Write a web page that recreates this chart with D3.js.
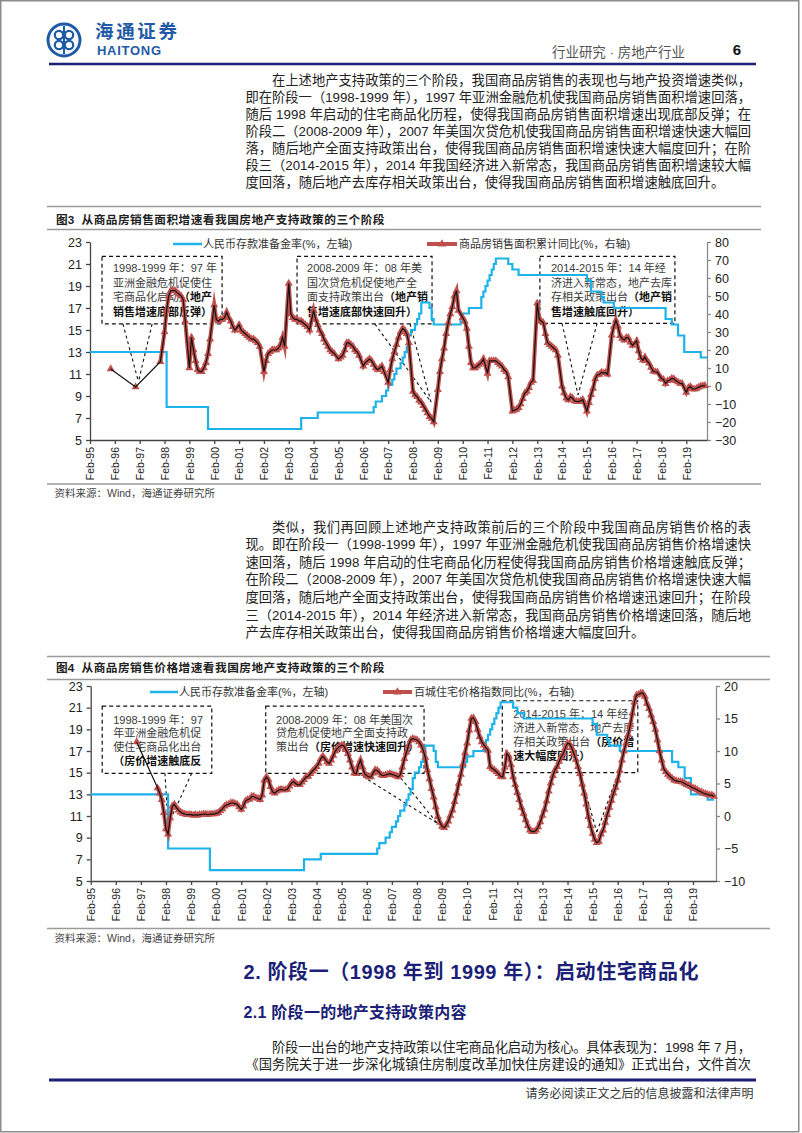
<!DOCTYPE html>
<html>
<head>
<meta charset="utf-8">
<script src="https://cdn.jsdelivr.net/npm/d3@7"></script>
<style>
body { margin: 0; background: #fff; }
svg { display: block; }
</style>
</head>
<body>
<div id="page"></div>
<script>
// ---- data ----
var yearLabels = ["Feb-95", "Feb-96", "Feb-97", "Feb-98", "Feb-99", "Feb-00", "Feb-01", "Feb-02",
    "Feb-03", "Feb-04", "Feb-05", "Feb-06", "Feb-07", "Feb-08", "Feb-09", "Feb-10", "Feb-11",
    "Feb-12", "Feb-13", "Feb-14", "Feb-15", "Feb-16", "Feb-17", "Feb-18", "Feb-19"];
var rrrTicks = [5, 7, 9, 11, 13, 15, 17, 19, 21, 23];
var areaTicks = [-30, -20, -10, 0, 10, 20, 30, 40, 50, 60, 70, 80];
var priceTicks = [-10, -5, 0, 5, 10, 15, 20];

// 人民币存款准备金率: change dates and new level (%)
var rrrDates = ["1995-02", "1998-03", "1999-11", "2003-08", "2004-04", "2006-07", "2006-08", "2006-11",
    "2007-01", "2007-02", "2007-04", "2007-05", "2007-06", "2007-08", "2007-09", "2007-10", "2007-11",
    "2007-12", "2008-01", "2008-03", "2008-04", "2008-05", "2008-06", "2008-10", "2008-11", "2008-12",
    "2010-01", "2010-02", "2010-05", "2010-11", "2010-12", "2011-01", "2011-02", "2011-03", "2011-04",
    "2011-05", "2011-06", "2011-12", "2012-02", "2012-05", "2015-02", "2015-04", "2015-09", "2015-10",
    "2016-03", "2018-04", "2018-07", "2018-10", "2019-01", "2019-09", "2019-12"];
var rrrValues = [13, 8, 6, 7, 7.5, 8, 8.5, 9,
    9.5, 10, 10.5, 11, 11.5, 12, 12.5, 13, 13.5,
    14.5, 15, 15.5, 16, 16.5, 17.5, 17, 16, 15.5,
    16, 16.5, 17, 18, 18.5, 19, 19.5, 20, 20.5,
    21, 21.5, 21, 20.5, 20, 19.5, 18.5, 18, 17.5,
    17, 16, 15.5, 14.5, 13, 12.5, 12.5];

// 商品房销售面积累计同比 (%): yearly points, then Feb..Dec each year from 1998 (Jan merged into Feb)
var areaEarlyDates = ["1995-12", "1996-12", "1997-12"];
var areaEarlyValues = [9.5, -0.5, 13.5];
var areaYoY = [
    30, 42, 50, 53, 53, 53, 52, 51, 50, 48, 36,
    10, 27, 20, 14, 9, 8, 8, 10, 13, 18, 26,
    45, 37, 36, 37, 37, 38, 41, 38, 36, 33, 31,
    34, 31, 30, 29, 28, 27, 26, 26, 25, 24, 22,
    8, 14, 18, 19, 20, 20, 20, 21, 23, 27, 22,
    57, 40, 38, 37, 37, 36, 36, 35, 34, 33, 31,
    42, 37, 34, 31, 29, 26, 24, 22, 20, 19, 18,
    15, 16, 17, 20, 24, 24, 23, 22, 20, 19, 17,
    11, 13, 14, 15, 14, 12, 10, 9, 10, 11, 8,
    2, 9, 15, 19, 23, 27, 30, 32, 31, 29, 24,
    -3, -5, -6, -8, -9, -11, -13, -15, -17, -18, -20,
    -2, 8, 15, 21, 29, 35, 40, 44, 50, 53, 42,
    38, 36, 32, 22, 13, 10, 10, 11, 12, 13, 15,
    7, 14, 14, 14, 14, 13, 12, 11, 9, 8, 5,
    -14, -13.5, -13, -12, -10, -7, -4, -3, -1, 2, 3,
    46, 37, 36, 35, 29, 24, 23, 22, 21, 20, 17,
    -0.1, -3.8, -6.8, -7.8, -6.0, -6.6, -8.3, -8.6, -8.7, -8.2, -7.6,
    -14, -9.2, -4.8, -1.3, 3.9, 6.1, 6.4, 7.5, 7.2, 7.4, 6.5,
    28.2, 33.1, 36.5, 33.2, 27.9, 26.4, 25.5, 26.9, 26.8, 24.3, 22.5,
    25.1, 19.5, 15.7, 14.3, 16.1, 14.0, 12.7, 10.3, 8.2, 7.9, 7.7,
    4.1, 3.6, 1.3, 2.9, 3.3, 4.2, 4.0, 2.9, 2.2, 1.4, 1.3,
    -3.6, -0.9, -0.3, -1.6, -1.8, -1.3, -0.6, -0.1, 0.1, 0.2];

// 百城住宅价格指数同比 (%): one early point, then monthly from Oct-97
var priceEarlyDates = ["1996-12"];
var priceEarlyValues = [11.4];
var priceStart = "1997-10";
var priceYoY = [
    4.3, 3.5, 2.5,
    0.5, -2.0, -2.8, -0.3, 1.5, 1.8, 1.3, 0.9, 0.6, 0.4, 0.3, 0.2,
    0.2, 0.2, 0.1, 0.2, 0.1, 0.2, 0.2, 0.3, 0.3, 0.2, 0.3, 0.3,
    0.3, 0.4, 0.5, 0.8, 1.1, 1.5, 1.7, 1.8, 2.0, 2.0, 1.9, 1.8,
    1.4, 1.0, 1.5, 2.3, 2.5, 2.6, 3.0, 3.0, 2.8, 2.7, 2.5, 3.2,
    5.5, 6.0, 5.6, 4.5, 3.7, 3.5, 3.8, 4.0, 4.1, 4.0, 4.0, 4.1,
    4.6, 5.1, 5.3, 5.0, 4.8, 4.8, 5.2, 5.6, 6.0, 6.1, 6.5, 6.9,
    7.2, 7.6, 8.1, 8.8, 9.2, 8.8, 8.3, 8.1, 8.6, 9.3, 10.0, 10.4,
    10.7, 10.9, 10.8, 10.2, 9.6, 8.6, 7.5, 6.6, 6.5, 7.8, 8.6, 7.5,
    6.5, 6.2, 6.0, 6.0, 6.6, 7.1, 7.0, 6.7, 6.3, 6.2, 6.3, 6.4,
    6.5, 6.4, 6.3, 6.2, 6.0, 6.3, 7.5, 8.8, 9.8, 10.9, 11.7, 11.9,
    11.8, 11.7, 11.4, 10.9, 10.1, 9.0, 7.1, 5.7, 4.2, 2.9, 1.4, -0.1,
    -1.0, -1.6, -1.8, -1.4, -0.8, 0.1, 0.9, 2.2, 3.5, 5.0, 6.4, 8.0,
    9.7, 11.2, 13.2, 15.0, 15.1, 14.5, 13.3, 12.2, 11.4, 10.9, 10.5, 10.1,
    7.6, 7.3, 7.1, 6.8, 6.5, 6.1, 6.0, 7.5, 9.6, 9.2, 7.9, 6.0,
    4.8, 3.6, 2.5, 1.3, 0.4, -0.6, -1.5, -2.2, -2.4, -2.4, -2.2, -1.7,
    -0.9, 0.1, 1.0, 2.3, 3.8, 5.1, 6.2, 7.1, 7.6, 8.4, 9.1, 9.6,
    10.5, 11.2, 11.1, 10.5, 9.6, 8.7, 7.6, 6.5, 4.9, 3.5, 1.8, -0.1,
    -1.5, -2.7, -3.6, -4.1, -3.9, -2.8, -2.2, -1.0, 0.2, 1.3, 2.4, 3.5,
    4.4, 5.5, 7.0, 8.6, 10.0, 11.2, 12.5, 14.0, 15.8, 17.5, 18.6, 18.7,
    18.9, 18.9, 18.4, 17.3, 16.5, 15.5, 14.5, 13.3, 11.7, 10.0, 8.6, 7.3,
    6.8, 6.4, 6.1, 5.8, 5.5, 5.4, 5.3, 5.3, 5.2, 5.0, 4.8, 4.7,
    4.5, 4.3, 4.2, 4.0, 3.8, 3.7, 3.5, 3.4, 3.3, 3.2, 3.2, 3.0];

// ---- helpers ----
var cjk = "'Liberation Sans', 'Noto Sans CJK SC', sans-serif";
var navy = "#1c1f78";
var blue = "#1db3ea";
var red = "#c0504d";

function monthIndex(s) {
    var p = s.split("-");
    return (+p[0] - 1995) * 12 + (+p[1] - 2);
}

function febToDec(startYear, endYear, endMonth) {
    var out = [];
    for (var y = startYear; y <= endYear; y++) {
        for (var m = 2; m <= 12; m++) {
            if (y === endYear && m > endMonth) break;
            out.push((y - 1995) * 12 + (m - 2));
        }
    }
    return out;
}

var svg = d3.select("#page").append("svg")
    .attr("width", 802)
    .attr("height", 1133);

svg.append("rect").attr("width", 802).attr("height", 1133).attr("fill", "#fff");
svg.append("rect")
    .attr("x", 0.75).attr("y", 0.75).attr("width", 798).attr("height", 1131)
    .attr("fill", "none").attr("stroke", "#8c8c8c").attr("stroke-width", 1.5);

// ---- header ----
var logo = svg.append("g").attr("transform", "translate(64,40)");
logo.append("circle").attr("r", 16).attr("fill", "none").attr("stroke", "#1f5aa6").attr("stroke-width", 3);
[[-5, -5], [5, -5], [-5, 5], [5, 5]].forEach(function (p) {
    logo.append("circle").attr("cx", p[0]).attr("cy", p[1]).attr("r", 4.2)
        .attr("fill", "none").attr("stroke", "#1f5aa6").attr("stroke-width", 2.2);
});
logo.append("line").attr("x1", 0).attr("x2", 0).attr("y1", -14).attr("y2", 14)
    .attr("stroke", "#1f5aa6").attr("stroke-width", 2);

svg.append("text").attr("x", 95).attr("y", 37.5)
    .attr("font-family", cjk).attr("font-size", 18.5).attr("font-weight", 700)
    .attr("fill", "#1f5aa6").attr("textLength", 82).text("海通证券");
svg.append("text").attr("x", 97).attr("y", 55)
    .attr("font-family", "'Liberation Sans', sans-serif").attr("font-size", 13).attr("font-weight", 700)
    .attr("fill", "#1f5aa6").attr("textLength", 64).text("HAITONG");
svg.append("text").attr("x", 552).attr("y", 57)
    .attr("font-family", cjk).attr("font-size", 13.5).attr("fill", "#555")
    .attr("textLength", 133).text("行业研究 · 房地产行业");
svg.append("text").attr("x", 737).attr("y", 54.5).attr("text-anchor", "middle")
    .attr("font-family", "'Liberation Sans', sans-serif").attr("font-size", 15).attr("font-weight", 700)
    .attr("fill", "#111").text("6");
svg.append("line").attr("x1", 49).attr("x2", 756).attr("y1", 64).attr("y2", 64)
    .attr("stroke", navy).attr("stroke-width", 2.5);

// ---- body text ----
function paragraph(lines, y0, step) {
    lines.forEach(function (line, i) {
        var first = i === 0;
        var last = i === lines.length - 1;
        var x0 = first ? 272 : 245.5;
        var t = svg.append("text")
            .attr("x", x0).attr("y", y0 + i * step)
            .attr("font-family", cjk).attr("font-size", 13.3).attr("fill", "#222")
            .text(line);
        if (!last) {
            t.attr("textLength", 751 - x0).attr("lengthAdjust", "spacing");
        }
    });
}

paragraph([
    "在上述地产支持政策的三个阶段，我国商品房销售的表现也与地产投资增速类似，",
    "即在阶段一（1998-1999 年），1997 年亚洲金融危机使我国商品房销售面积增速回落，",
    "随后 1998 年启动的住宅商品化历程，使得我国商品房销售面积增速出现底部反弹；在",
    "阶段二（2008-2009 年），2007 年美国次贷危机使我国商品房销售面积增速快速大幅回",
    "落，随后地产全面支持政策出台，使得我国商品房销售面积增速快速大幅度回升；在阶",
    "段三（2014-2015 年），2014 年我国经济进入新常态，我国商品房销售面积增速较大幅",
    "度回落，随后地产去库存相关政策出台，使得我国商品房销售面积增速触底回升。"
], 85, 17);

paragraph([
    "类似，我们再回顾上述地产支持政策前后的三个阶段中我国商品房销售价格的表",
    "现。即在阶段一（1998-1999 年），1997 年亚洲金融危机使我国商品房销售价格增速快",
    "速回落，随后 1998 年启动的住宅商品化历程使得我国商品房销售价格增速触底反弹；",
    "在阶段二（2008-2009 年），2007 年美国次贷危机使我国商品房销售价格增速快速大幅",
    "度回落，随后地产全面支持政策出台，使得我国商品房销售价格增速迅速回升；在阶段",
    "三（2014-2015 年），2014 年经济进入新常态，我国商品房销售价格增速回落，随后地",
    "产去库存相关政策出台，使得我国商品房销售价格增速大幅度回升。"
], 531.5, 17.6);

svg.append("text").attr("x", 243.5).attr("y", 979)
    .attr("font-family", cjk).attr("font-size", 20).attr("font-weight", 700).attr("fill", navy)
    .attr("textLength", 455).text("2. 阶段一（1998 年到 1999 年）：启动住宅商品化");
svg.append("text").attr("x", 243.5).attr("y", 1017.5)
    .attr("font-family", cjk).attr("font-size", 16).attr("font-weight", 700).attr("fill", navy)
    .attr("textLength", 223).text("2.1 阶段一的地产支持政策内容");

svg.append("text").attr("x", 272).attr("y", 1051.5)
    .attr("font-family", cjk).attr("font-size", 13.3).attr("fill", "#222")
    .attr("textLength", 479).attr("lengthAdjust", "spacing")
    .text("阶段一出台的地产支持政策以住宅商品化启动为核心。具体表现为：1998 年 7 月，");
svg.append("text").attr("x", 245.5).attr("y", 1069)
    .attr("font-family", cjk).attr("font-size", 13.3).attr("fill", "#222")
    .attr("textLength", 505.5).attr("lengthAdjust", "spacing")
    .text("《国务院关于进一步深化城镇住房制度改革加快住房建设的通知》正式出台，文件首次");

svg.append("line").attr("x1", 49).attr("x2", 756).attr("y1", 1080).attr("y2", 1080)
    .attr("stroke", navy).attr("stroke-width", 3);
svg.append("text").attr("x", 753.5).attr("y", 1097.5).attr("text-anchor", "end")
    .attr("font-family", cjk).attr("font-size", 12).attr("fill", "#333")
    .text("请务必阅读正文之后的信息披露和法律声明");

// ---- charts ----
function drawChart(cfg) {
    var g = svg.append("g");
    var x = d3.scaleLinear().domain([0, cfg.months]).range([cfg.left, cfg.right]);
    var yL = d3.scaleLinear().domain([5, 23]).range([cfg.bottom, cfg.top]);
    var yR = d3.scaleLinear().domain(cfg.rightDomain).range([cfg.bottom, cfg.top]);

    [cfg.ruleTop, cfg.ruleMid, cfg.ruleBottom].forEach(function (ry) {
        g.append("line")
            .attr("x1", 47).attr("x2", cfg.ruleRight)
            .attr("y1", ry).attr("y2", ry)
            .attr("stroke", "#9a9a9a").attr("stroke-width", 1.5);
    });
    g.append("text").attr("x", 56).attr("y", cfg.titleY)
        .attr("font-family", cjk).attr("font-size", 11.7).attr("font-weight", 700).attr("fill", "#222")
        .text(cfg.figure);
    g.append("text").attr("x", 81.5).attr("y", cfg.titleY)
        .attr("font-family", cjk).attr("font-size", 11.7).attr("font-weight", 700).attr("fill", "#222")
        .attr("textLength", 303).text(cfg.title);
    g.append("text").attr("x", 54.5).attr("y", cfg.ruleBottom + 13)
        .attr("font-family", cjk).attr("font-size", 10.5).attr("fill", "#444")
        .text("资料来源：Wind，海通证券研究所");

    // axes
    var left = g.append("g")
        .attr("transform", "translate(" + cfg.left + ",0)")
        .call(d3.axisLeft(yL).tickValues(rrrTicks).tickSize(4).tickSizeOuter(0).tickPadding(4));
    var right = g.append("g")
        .attr("transform", "translate(" + cfg.right + ",0)")
        .call(d3.axisRight(yR).tickValues(cfg.rightTicks).tickSize(4).tickSizeOuter(0).tickPadding(4));
    var bottom = g.append("g")
        .attr("transform", "translate(0," + cfg.bottom + ")")
        .call(d3.axisBottom(x)
            .tickValues(yearLabels.map(function (d, i) { return i * 12; }))
            .tickFormat(function (d) { return yearLabels[d / 12]; })
            .tickSize(4).tickSizeOuter(0));
    [left, right].forEach(function (a) {
        a.selectAll("text").attr("font-family", "'Liberation Sans', sans-serif")
            .attr("font-size", 12.5).attr("fill", "#222");
    });
    left.selectAll("path, line").attr("stroke", "#444").attr("stroke-width", 1.3);
    right.selectAll("path, line").attr("stroke", "#8a8a8a").attr("stroke-width", 1.3);
    bottom.selectAll("path, line").attr("stroke", "#444").attr("stroke-width", 1.3);
    bottom.selectAll("text")
        .attr("font-family", "'Liberation Sans', sans-serif")
        .attr("font-size", 10.5).attr("fill", "#222")
        .attr("transform", "rotate(-90)")
        .attr("x", -7).attr("y", 0).attr("dy", "0.36em")
        .attr("text-anchor", "end");

    // annotation boxes
    cfg.boxes.forEach(function (b) {
        var bx0 = x(b.m0), bx1 = x(b.m1), by0 = yL(b.top), by1 = yL(b.bottom);
        g.append("rect")
            .attr("x", bx0).attr("y", by0)
            .attr("width", bx1 - bx0).attr("height", by1 - by0)
            .attr("fill", "none").attr("stroke", "#111").attr("stroke-width", 1.2)
            .attr("stroke-dasharray", "4,3");
        b.legs.forEach(function (lm) {
            g.append("line")
                .attr("x1", x(lm)).attr("y1", by1)
                .attr("x2", x(b.tip[0])).attr("y2", yL(b.tip[1]))
                .attr("stroke", "#111").attr("stroke-width", 1.1)
                .attr("stroke-dasharray", "3,3");
        });
        b.lines.forEach(function (segs, i) {
            var t = g.append("text")
                .attr("x", bx0 + b.dx).attr("y", by0 + cfg.boxY + i * cfg.boxStep)
                .attr("font-family", cjk).attr("font-size", 11);
            segs.forEach(function (s) {
                t.append("tspan")
                    .attr("font-weight", s[1] ? 700 : 400)
                    .attr("fill", s[1] ? "#111" : "#3a3a3a")
                    .text(s[0]);
            });
        });
    });

    // legend
    g.append("line")
        .attr("x1", cfg.legendBlue[0]).attr("x2", cfg.legendBlue[1])
        .attr("y1", cfg.legendY).attr("y2", cfg.legendY)
        .attr("stroke", blue).attr("stroke-width", 2.5);
    g.append("text").attr("x", cfg.legendBlue[1] + 1).attr("y", cfg.legendY + 4)
        .attr("font-family", cjk).attr("font-size", 11).attr("fill", "#333")
        .text("人民币存款准备金率(%，左轴)");
    g.append("line")
        .attr("x1", cfg.legendRed[0]).attr("x2", cfg.legendRed[1])
        .attr("y1", cfg.legendY).attr("y2", cfg.legendY)
        .attr("stroke", red).attr("stroke-width", 4);
    g.append("path")
        .attr("d", d3.symbol().type(d3.symbolTriangle).size(30)())
        .attr("transform", "translate(" + (cfg.legendRed[0] + cfg.legendRed[1]) / 2 + "," + cfg.legendY + ")")
        .attr("fill", red);
    g.append("text").attr("x", cfg.legendRed[1] + 2).attr("y", cfg.legendY + 4)
        .attr("font-family", cjk).attr("font-size", 11).attr("fill", "#333")
        .text(cfg.redLabel);

    // series
    var rrr = rrrDates.map(function (d, i) { return { m: monthIndex(d), v: rrrValues[i] }; });
    g.append("path")
        .datum(rrr)
        .attr("d", d3.line().curve(d3.curveStepAfter)
            .x(function (d) { return x(d.m); })
            .y(function (d) { return yL(d.v); }))
        .attr("fill", "none").attr("stroke", blue).attr("stroke-width", 2.2);

    var line = d3.line()
        .x(function (d) { return x(d.m); })
        .y(function (d) { return yR(d.v); });

    g.append("path")
        .datum(cfg.thick)
        .attr("d", line)
        .attr("fill", "none").attr("stroke", red).attr("stroke-width", 4)
        .attr("stroke-linejoin", "miter").attr("stroke-miterlimit", 8);

    g.selectAll(".tri")
        .data(cfg.all)
        .enter().append("path")
        .attr("class", "tri")
        .attr("d", d3.symbol().type(d3.symbolTriangle).size(28)())
        .attr("transform", function (d) { return "translate(" + x(d.m) + "," + yR(d.v) + ")"; })
        .attr("fill", red);

    g.append("path")
        .datum(cfg.all)
        .attr("d", line)
        .attr("fill", "none").attr("stroke", "#111").attr("stroke-width", 1.2);
}

// chart 1 series points
var areaMonths = febToDec(1998, 2019, 11);
var areaEarly = areaEarlyDates.map(function (d, i) { return { m: monthIndex(d), v: areaEarlyValues[i] }; });
var areaMain = areaMonths.map(function (m, i) { return { m: m, v: areaYoY[i] }; });

drawChart({
    months: 298, left: 90, right: 707, top: 242, bottom: 440,
    rightDomain: [-30, 80], rightTicks: areaTicks,
    ruleTop: 206.5, ruleMid: 229.5, ruleBottom: 484, ruleRight: 761, titleY: 223.5,
    figure: "图3",
    title: "从商品房销售面积增速看我国房地产支持政策的三个阶段",
    legendY: 244, legendBlue: [173, 202], legendRed: [427, 457],
    redLabel: "商品房销售面积累计同比(%，右轴)",
    boxY: 15.5, boxStep: 14.8,
    boxes: [
        { m0: 5.8, m1: 63.8, top: 21.7, bottom: 15.55, dx: 11, legs: [15.9, 30], tip: [23.4, 10.3],
          lines: [[["1998-1999 年：97 年", false]], [["亚洲金融危机促使住", false]],
                  [["宅商品化启动", false], ["（地产", true]], [["销售增速底部反弹）", true]]] },
        { m0: 100, m1: 165.2, top: 21.7, bottom: 15.55, dx: 10, legs: [137.6, 154.6], tip: [164.7, 8.45],
          lines: [[["2008-2009 年：08 年美", false]], [["国次贷危机促使地产全", false]],
                  [["面支持政策出台", false], ["（地产销", true]], [["售增速底部快速回升）", true]]] },
        { m0: 217.3, m1: 282.5, top: 21.7, bottom: 15.6, dx: 11, legs: [228, 244.9], tip: [235.7, 9.1],
          lines: [[["2014-2015 年：14 年经", false]], [["济进入新常态，地产去库", false]],
                  [["存相关政策出台", false], ["（地产销", true]], [["售增速触底回升）", true]]] }
    ],
    thick: [areaEarly[2]].concat(areaMain),
    all: areaEarly.concat(areaMain)
});

// chart 2 series points
var p0 = monthIndex(priceStart);
var priceEarly = priceEarlyDates.map(function (d, i) { return { m: monthIndex(d), v: priceEarlyValues[i] }; });
var priceMain = priceYoY.map(function (v, i) { return { m: p0 + i, v: v }; });

drawChart({
    months: 299, left: 90.7, right: 716, top: 686, bottom: 881,
    rightDomain: [-10, 20], rightTicks: priceTicks,
    ruleTop: 656.5, ruleMid: 679.5, ruleBottom: 928.5, ruleRight: 770, titleY: 671.5,
    figure: "图4",
    title: "从商品房销售价格增速看我国房地产支持政策的三个阶段",
    legendY: 692, legendBlue: [150, 178], legendRed: [383, 412],
    redLabel: "百城住宅价格指数同比(%，右轴)",
    boxY: 17.5, boxStep: 13.9,
    boxes: [
        { m0: 5.5, m1: 57.9, top: 21.15, bottom: 14.94, dx: 11, legs: [35.5, 48.3], tip: [37, 10.2],
          lines: [[["1998-1999 年：97", false]], [["年亚洲金融危机促", false]],
                  [["使住宅商品化出台", false]], [["（房价增速触底反", true]]] },
        { m0: 83.7, m1: 159.4, top: 21.15, bottom: 14.94, dx: 10.3, legs: [127.8, 146.5], tip: [165.6, 10.35],
          lines: [[["2008-2009 年：08 年美国次", false]], [["贷危机促使地产全面支持政", false]],
                  [["策出台", false], ["（房价增速快速回升）", true]]] },
        { m0: 196.8, m1: 261.6, top: 21.64, bottom: 15.0, dx: 11, legs: [234, 252.3], tip: [242, 9.5],
          lines: [[["2014-2015 年：14 年经", false]], [["济进入新常态，地产去库", false]],
                  [["存相关政策出台", false], ["（房价增", true]], [["速大幅度回升）", true]]] }
    ],
    thick: priceMain,
    all: priceEarly.concat(priceMain)
});
</script>
</body>
</html>
